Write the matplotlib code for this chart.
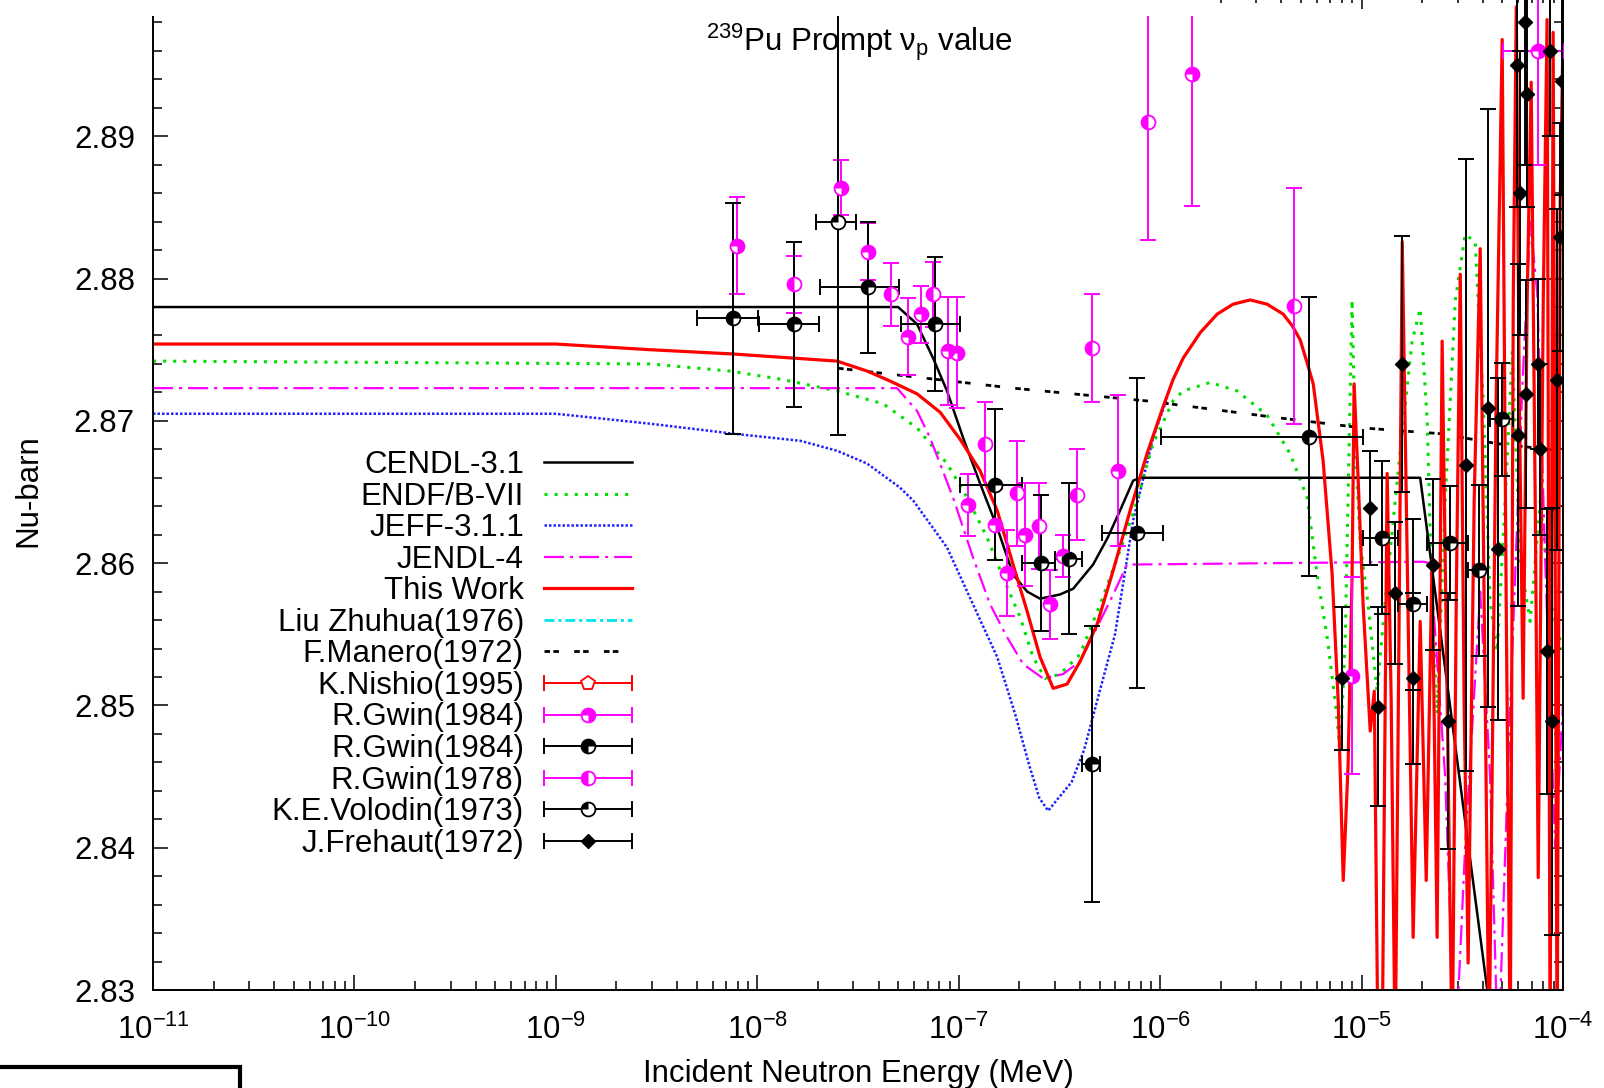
import numpy as np
import matplotlib
matplotlib.use("Agg")
import matplotlib.pyplot as plt
from matplotlib.path import Path
from matplotlib.lines import Line2D
from matplotlib.collections import LineCollection
from matplotlib.container import ErrorbarContainer
from matplotlib.legend_handler import HandlerErrorbar
from matplotlib.patches import Rectangle
from matplotlib.ticker import MultipleLocator, FuncFormatter

FS = 22.5
plt.rcParams.update({
    'font.family': ['Liberation Sans', 'DejaVu Sans'],
    'mathtext.fontset': 'custom',
    'mathtext.rm': 'Liberation Sans',
    'mathtext.it': 'Liberation Sans:italic',
    'mathtext.bf': 'Liberation Sans:bold',
    'font.size': FS,
})

# ---------------- evaluated curves: log10(E/MeV) and prompt nu ----------------
cendl_logE = [-11.0, -7.301, -7.207, -7.127, -7.058, -6.978, -6.894, -6.809, -6.730,
              -6.660, -6.596, -6.497, -6.432, -6.333, -6.260, -6.199, -6.134, -6.099,
              -4.709, -4.376, -4.337, -4.0]
cendl_nu = [2.8780, 2.8780, 2.8768, 2.8744, 2.8721, 2.8688, 2.8656, 2.8625, 2.8592,
            2.8580, 2.8575, 2.8578, 2.8582, 2.8599, 2.8618, 2.8637, 2.8658, 2.8660,
            2.8660, 2.8300, 2.8240, 2.8240]

endf_logE = [-11.0, -8.532, -8.135, -7.872, -7.604, -7.375, -7.207, -7.058, -6.958, -6.859,
             -6.780, -6.695, -6.631, -6.571, -6.497, -6.397, -6.298, -6.199, -6.134, -6.035,
             -5.936, -5.886, -5.752, -5.618, -5.469, -5.355, -5.270, -5.221, -5.171, -5.131,
             -5.106, -5.081, -5.062, -5.047, -5.032, -5.007, -4.967, -4.923, -4.883, -4.808,
             -4.749, -4.709, -4.674, -4.650, -4.625, -4.585, -4.535, -4.486, -4.436, -4.396,
             -4.362, -4.327, -4.287, -4.252, -4.212, -4.163, -4.113, -4.064, -4.0]
endf_nu = [2.8742, 2.8740, 2.8735, 2.8729, 2.8721, 2.8712, 2.8695, 2.8670, 2.8646, 2.8618,
           2.8590, 2.8562, 2.8534, 2.8519, 2.8522, 2.8536, 2.8571, 2.8609, 2.8635, 2.8684,
           2.8714, 2.8721, 2.8727, 2.8721, 2.8704, 2.8677, 2.8646, 2.8592, 2.8548, 2.8503,
           2.8467, 2.8548, 2.8681, 2.8785, 2.8681, 2.8615, 2.8570, 2.8510, 2.8573, 2.8679,
           2.8756, 2.8779, 2.8700, 2.8573, 2.8494, 2.8644, 2.8784, 2.8831, 2.8826, 2.8714,
           2.8573, 2.8538, 2.8644, 2.8749, 2.8601, 2.8559, 2.8644, 2.8573, 2.8538]

jeff_logE = [-11.0, -9.0, -8.532, -8.120, -7.787, -7.604, -7.455, -7.291, -7.226, -7.058,
             -6.929, -6.809, -6.720, -6.650, -6.600, -6.556, -6.510, -6.440, -6.377, -6.300,
             -6.224, -6.134, -6.035, -5.965]
jeff_nu = [2.8705, 2.8705, 2.8698, 2.8691, 2.8686, 2.8679, 2.8670, 2.8653, 2.8644, 2.8611,
           2.8571, 2.8534, 2.8494, 2.8458, 2.8435, 2.8426, 2.8434, 2.8446, 2.8469, 2.8510,
           2.8550, 2.8630, 2.8688, 2.8716]

jendl_logE = [-11.0, -7.306, -7.207, -7.142, -7.028, -6.929, -6.844, -6.760, -6.680, -6.581,
              -6.482, -6.397, -6.313, -6.233, -6.164, -4.694, -4.659, -4.585, -4.535, -4.486,
              -4.411, -4.362, -4.322, -4.262, -4.203, -4.163, -4.128, -4.088, -4.039, -4.0]
jendl_nu = [2.8723, 2.8723, 2.8707, 2.8688, 2.8646, 2.8604, 2.8571, 2.8548, 2.8529, 2.8519,
            2.8522, 2.8531, 2.8555, 2.8578, 2.8599, 2.8601, 2.8600, 2.8450, 2.8250, 2.8400,
            2.8580, 2.8450, 2.8250, 2.8500, 2.8720, 2.8840, 2.8790, 2.8600, 2.8400, 2.8500]

this_logE = [-11.0, -9.0, -8.532, -8.120, -7.604, -7.455, -7.341, -7.207, -7.092, -6.993,
             -6.894, -6.809, -6.730, -6.660, -6.596, -6.531, -6.462, -6.397, -6.313, -6.233,
             -6.149, -6.065, -5.985, -5.936, -5.886, -5.801, -5.717, -5.638, -5.553, -5.469,
             -5.389, -5.345, -5.305, -5.275, -5.240, -5.191,
             -5.146, -5.116, -5.091, -5.067, -5.047, -5.037, -5.017, -4.992, -4.957, -4.937,
             -4.918, -4.898, -4.873, -4.853, -4.833, -4.813, -4.798, -4.778, -4.744, -4.709,
             -4.679, -4.650, -4.625, -4.600, -4.575, -4.550, -4.530, -4.510, -4.491, -4.471,
             -4.441, -4.411, -4.386, -4.367, -4.332, -4.302, -4.282, -4.262, -4.247, -4.232,
             -4.217, -4.198, -4.178, -4.158, -4.138, -4.123, -4.098, -4.079, -4.064, -4.049,
             -4.029, -4.014, -4.0]
this_nu = [2.8754, 2.8754, 2.8750, 2.8747, 2.8742, 2.8735, 2.8728, 2.8719, 2.8706, 2.8687,
           2.8665, 2.8637, 2.8599, 2.8566, 2.8534, 2.8512, 2.8515, 2.8531, 2.8557, 2.8595,
           2.8637, 2.8677, 2.8710, 2.8729, 2.8744, 2.8762, 2.8775, 2.8782, 2.8785, 2.8782,
           2.8775, 2.8767, 2.8757, 2.8743, 2.8726, 2.8672,
           2.8592, 2.8503, 2.8377, 2.8458, 2.8592, 2.8726, 2.8659, 2.8570, 2.8482, 2.8510,
           2.8250, 2.8250, 2.8663, 2.8503, 2.8250, 2.8573, 2.8826, 2.8644, 2.8337, 2.8559,
           2.8377, 2.8602, 2.8337, 2.8756, 2.8503, 2.8250, 2.8573, 2.8803, 2.8503, 2.8319,
           2.8644, 2.8821, 2.8503, 2.8250, 2.8714, 2.8968, 2.8573, 2.8250, 2.8784, 2.8991,
           2.8714, 2.8505, 2.8784, 2.8938, 2.8644, 2.8379, 2.8784, 2.8982, 2.8250, 2.8973,
           2.8250, 2.8854, 2.8968]

liu_logE = []
liu_nu = []

manero_logE = [-7.599, -6.730, -6.065, -5.404, -4.992, -4.610, -4.327, -4.014]
manero_nu = [2.8737, 2.8723, 2.8714, 2.8702, 2.8695, 2.8691, 2.8684, 2.8679]

# ---------------- experimental points ----------------
# R.Gwin (1984), magenta
gwm84_logE = [-8.100, -7.584, -7.450, -7.251, -7.187, -7.053, -7.008, -6.953, -6.819,
              -6.760, -6.670, -6.546, -6.482, -6.209, -5.841, -5.047]
gwm84_nu = [2.8823, 2.8864, 2.8819, 2.8759, 2.8775, 2.8749, 2.8748, 2.8641, 2.8627,
            2.8593, 2.8620, 2.8571, 2.8605, 2.8665, 2.8944, 2.8521]
gwm84_err = [0.0034, 0.0019, 0.0020, 0.0027, 0.0020, 0.0038, 0.0039, 0.0022, 0.0025,
             0.0030, 0.0036, 0.0024, 0.0015, 0.0053, 0.0093, 0.0069]
# one binned point with an energy range
gwm84b_logE = [-4.123]
gwm84b_nu = [2.8960]
gwm84b_err = [0.0080]
gwm84b_lo = [-4.297]
gwm84b_hi = [-4.000]

# R.Gwin (1978), magenta
gwm78_logE = [-7.817, -7.336, -7.127, -6.869, -6.710, -6.601, -6.412, -6.338, -6.060, -5.335]
gwm78_nu = [2.8796, 2.8789, 2.8789, 2.8684, 2.8649, 2.8626, 2.8648, 2.8751, 2.8910, 2.8781]
gwm78_err = [0.0020, 0.0022, 0.0023, 0.0029, 0.0037, 0.0030, 0.0032, 0.0038, 0.0083, 0.0083]

# R.Gwin (1984), black, energy-binned
gwk84_logE = [-8.120, -7.817, -7.450, -7.117, -6.819, -6.591, -6.452, -6.338, -6.114,
              -5.260, -4.898, -4.744, -4.560, -4.416, -4.302]
gwk84_nu = [2.8772, 2.8768, 2.8794, 2.8768, 2.8655, 2.8600, 2.8603, 2.8459, 2.8621,
            2.8689, 2.8618, 2.8571, 2.8614, 2.8595, 2.8701]
gwk84_err = [0.0081, 0.0058, 0.0046, 0.0047, 0.0053, 0.0048, 0.0053, 0.0097, 0.0109,
             0.0098, 0.0054, 0.0060, 0.0040, 0.0060, 0.0040]
gwk84_lo = [-8.299, -7.991, -7.688, -7.286, -6.993, -6.685, -6.521, -6.387, -6.288,
            -5.995, -4.992, -4.818, -4.674, -4.471, -4.362]
gwk84_hi = [-7.996, -7.693, -7.296, -6.993, -6.685, -6.521, -6.387, -6.298, -5.985,
            -4.992, -4.818, -4.674, -4.471, -4.371, -4.247]

# K.E.Volodin (1973)
vol_logE = [-7.599]
vol_nu = [2.8840]
vol_err = [0.0150]
vol_lo = [-7.708]
vol_hi = [-7.509]

# J.Frehaut (1972)
fre_logE = [-5.096, -4.957, -4.918, -4.833, -4.798, -4.744, -4.644, -4.570, -4.481,
            -4.371, -4.322, -4.227, -4.213, -4.188, -4.178, -4.222, -4.183, -4.123,
            -4.113, -4.079, -4.054, -4.064, -4.004, -4.014, -4.029]
fre_nu = [2.8519, 2.8639, 2.8499, 2.8579, 2.8740, 2.8519, 2.8599, 2.8489, 2.8669,
          2.8709, 2.8610, 2.8950, 2.8860, 2.8980, 2.8930, 2.8690, 2.8719, 2.8740,
          2.8680, 2.8538, 2.8489, 2.8960, 2.8939, 2.8829, 2.8729]
fre_err = [0.0050, 0.0040, 0.0070, 0.0050, 0.0090, 0.0060, 0.0060, 0.0090, 0.0215,
           0.0210, 0.0120, 0.0100, 0.0100, 0.0100, 0.0080, 0.0120, 0.0080, 0.0060,
           0.0060, 0.0100, 0.0150, 0.0060, 0.0080, 0.0080, 0.0120]

legend_labels = ['CENDL-3.1', 'ENDF/B-VII', 'JEFF-3.1.1', 'JENDL-4', 'This Work',
                 'Liu Zhuhua(1976)', 'F.Manero(1972)', 'K.Nishio(1995)', 'R.Gwin(1984)',
                 'R.Gwin(1984)', 'R.Gwin(1978)', 'K.E.Volodin(1973)', 'J.Frehaut(1972)']

MAG = '#ff00ff'
CAP = 5.5
ELW = 1.4
MS = 10


def energy(logs):
    return np.power(10.0, np.asarray(logs, dtype=float))


fig = plt.figure(figsize=(16.04, 10.88), dpi=100)
ax = fig.add_axes([0.09539, 0.09007, 0.87905, 0.91544])
ax.set_xscale('log')
ax.set_xlim(1e-11, 1e-4)
ax.set_ylim(2.83, 2.90)

# evaluated data
l_jeff, = ax.plot(energy(jeff_logE), jeff_nu, color='#2222ff', lw=1.8, ls=(0, (1, 0.8)), zorder=2)
l_endf, = ax.plot(energy(endf_logE), endf_nu, color='#00e000', lw=2.2, ls=(0, (1, 2.3)), zorder=2)
l_jendl, = ax.plot(energy(jendl_logE), jendl_nu, color=MAG, lw=1.6, ls=(0, (9, 2.7, 1.4, 2.7)), zorder=2)
l_manero, = ax.plot(energy(manero_logE), manero_nu, color='black', lw=2.0,
                    ls=(0, (2, 1.2, 2, 5.5)), zorder=2)
l_liu, = ax.plot(energy(liu_logE), liu_nu, color='#00e5ee', lw=2.0, ls=(0, (3.6, 1.4, 1.1, 1.4)), zorder=2)
l_cendl, = ax.plot(energy(cendl_logE), cendl_nu, color='black', lw=1.8, zorder=2)
l_this, = ax.plot(energy(this_logE), this_nu, color='#ff0000', lw=2.3, zorder=2.5)


def points(logE, nu, err, color, wedge, lo=None, hi=None):
    x = energy(logE)
    xerr = None
    if lo is not None:
        xerr = [x - energy(lo), energy(hi) - x]
    ax.errorbar(x, nu, yerr=err, xerr=xerr, fmt='none', ecolor=color, elinewidth=ELW,
                capsize=CAP, capthick=ELW, zorder=3)
    ring, = ax.plot(x, nu, ls='none', marker='o', ms=MS, mfc='white', mec=color, mew=1.3, zorder=4)
    fill, = ax.plot(x, nu, ls='none', marker=Path.wedge(*wedge), ms=MS, mfc=color,
                    mec='none', mew=0, zorder=5)
    return ring, fill


m84 = points(gwm84_logE, gwm84_nu, gwm84_err, MAG, (-90, 180))
points(gwm84b_logE, gwm84b_nu, gwm84b_err, MAG, (-90, 180), gwm84b_lo, gwm84b_hi)
m78 = points(gwm78_logE, gwm78_nu, gwm78_err, MAG, (90, 270))
k84 = points(gwk84_logE, gwk84_nu, gwk84_err, 'black', (0, 270), gwk84_lo, gwk84_hi)
vol = points(vol_logE, vol_nu, vol_err, 'black', (90, 180), vol_lo, vol_hi)

ax.errorbar(energy(fre_logE), fre_nu, yerr=fre_err, fmt='none', ecolor='black',
            elinewidth=ELW, capsize=CAP, capthick=ELW, zorder=3)
fre_mk, = ax.plot(energy(fre_logE), fre_nu, ls='none', marker='D', ms=7.5, mfc='black',
                  mec='black', zorder=5)
nishio_mk = Line2D([], [], ls='none', marker='p', ms=MS, mfc='white', mec='#ff0000', mew=1.3)

# axes styling
ax.yaxis.set_major_locator(MultipleLocator(0.01))
ax.yaxis.set_minor_locator(MultipleLocator(0.002))
ax.yaxis.set_major_formatter(FuncFormatter(lambda v, p: '' if v > 2.895 else f'{v:.2f}'))
for s in ax.spines.values():
    s.set_linewidth(1.4)
ax.tick_params(which='both', direction='in', top=True, right=True, width=1.1, labelsize=FS)
ax.tick_params(which='major', length=10.8)
ax.tick_params(which='minor', length=6.5)
ax.tick_params(axis='y', pad=13)
ax.tick_params(axis='x', pad=18)

ax.set_xlabel('Incident Neutron Energy (MeV)', fontsize=FS)
ax.xaxis.set_label_coords(0.5, -0.069)
ax.set_ylabel('Nu-barn', fontsize=FS)
ax.yaxis.set_label_coords(-0.078, 0.501)

ax.text(0.5007, 0.9428, r'$^{239}$Pu Prompt ν$_{\mathrm{p}}$ value', transform=ax.transAxes,
        ha='center', va='baseline', fontsize=FS)


# legend
def bar_proxy(color):
    cap = Line2D([], [], color=color, marker='|', ms=2 * CAP, mew=ELW, ls='none')
    bars = LineCollection([], colors=[color], linewidths=ELW)
    return ErrorbarContainer((None, (cap,), (bars,)), has_xerr=True, has_yerr=False)


handles = [l_cendl, l_endf, l_jeff, l_jendl, l_this, l_liu, l_manero,
           (bar_proxy('#ff0000'), nishio_mk),
           (bar_proxy(MAG), *m84),
           (bar_proxy('black'), *k84),
           (bar_proxy(MAG), *m78),
           (bar_proxy('black'), *vol),
           (bar_proxy('black'), fre_mk)]
HL = 2.82
ax.legend(handles, legend_labels, loc='upper right',
          bbox_to_anchor=(632 / 1604, 1 - 450 / 1088), bbox_transform=fig.transFigure,
          frameon=False, markerfirst=False, numpoints=1, fontsize=FS,
          handlelength=HL, handletextpad=0.64, labelspacing=0.05,
          borderpad=0, borderaxespad=0,
          handler_map={ErrorbarContainer: HandlerErrorbar(xerr_size=HL / 2)})

# page elements around the plot
fig.add_artist(Rectangle((0, 1 - 16 / 1088), 1205 / 1604, 0.03, transform=fig.transFigure,
                         facecolor='white', edgecolor='none', zorder=10))
fig.add_artist(Rectangle((-0.01, -0.02), 0.01 + 240 / 1604, 0.02 + 21 / 1088,
                         transform=fig.transFigure, fill=False, edgecolor='black', lw=3,
                         zorder=10))

fig.savefig('out.png', dpi=100)
